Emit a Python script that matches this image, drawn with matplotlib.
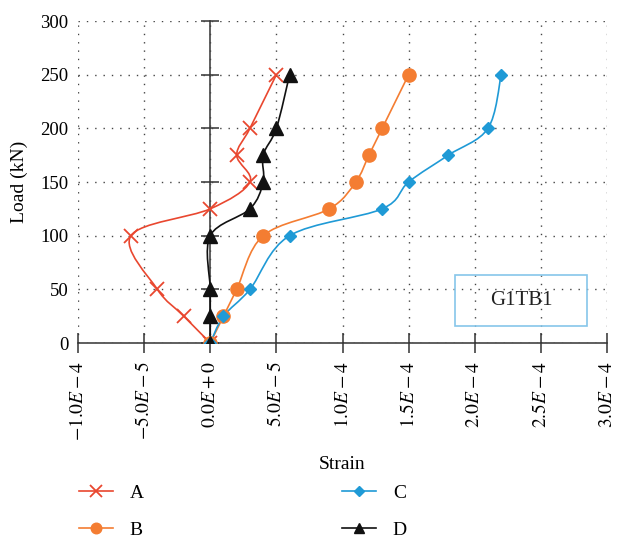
import matplotlib
matplotlib.use("Agg")
import matplotlib.pyplot as plt
import numpy as np
from matplotlib.path import Path
from matplotlib.patches import PathPatch, Rectangle
from matplotlib.lines import Line2D

plt.rcParams['font.family'] = ['Liberation Serif', 'DejaVu Serif']
plt.rcParams['mathtext.fontset'] = 'stix'

# load steps (kN) and measured strains for the four gauges
load = [0, 25, 50, 100, 125, 150, 175, 200, 250]
strain_a = [0, -2.0e-5, -4.0e-5, -6.0e-5, 0, 3.0e-5, 2.0e-5, 3.0e-5, 5.0e-5]
strain_b = [0, 1.0e-5, 2.0e-5, 4.0e-5, 9.0e-5, 1.1e-4, 1.2e-4, 1.3e-4, 1.5e-4]
strain_c = [0, 1.0e-5, 3.0e-5, 6.0e-5, 1.3e-4, 1.5e-4, 1.8e-4, 2.1e-4, 2.2e-4]
strain_d = [0, 0, 0, 0, 3.0e-5, 4.0e-5, 4.0e-5, 5.0e-5, 6.0e-5]

x_ticks = [-1.0e-4, -5.0e-5, 0, 5.0e-5, 1.0e-4, 1.5e-4, 2.0e-4, 2.5e-4, 3.0e-4]
x_labels = [r'$-1.0E-4$', r'$-5.0E-5$', r'$0.0E+0$', r'$5.0E-5$', r'$1.0E-4$',
            r'$1.5E-4$', r'$2.0E-4$', r'$2.5E-4$', r'$3.0E-4$']
y_ticks = [0, 50, 100, 150, 200, 250, 300]


def smooth_path(xs, ys):
    # Catmull-Rom style cubic bezier through every point
    p = np.column_stack([xs, ys]).astype(float)
    ext = np.vstack([p[0], p, p[-1]])
    verts = [tuple(p[0])]
    codes = [Path.MOVETO]
    for i in range(len(p) - 1):
        p0, p1, p2, p3 = ext[i], ext[i + 1], ext[i + 2], ext[i + 3]
        c1 = p1 + (p2 - p0) / 6.0
        c2 = p2 - (p3 - p1) / 6.0
        verts += [tuple(c1), tuple(c2), tuple(p2)]
        codes += [Path.CURVE4] * 3
    return Path(verts, codes)


fig = plt.figure(figsize=(6.22, 5.43), dpi=100)
ax = fig.add_axes([0.1254, 0.3683, 0.8505, 0.593])

series = [
    ('A', strain_a, '#e9472f', dict(marker='x', markersize=10, markeredgewidth=1.3)),
    ('B', strain_b, '#f47d32', dict(marker='o', markersize=9.5)),
    ('C', strain_c, '#1f9ad6', dict(marker='D', markersize=6.5)),
    ('D', strain_d, '#111111', dict(marker='^', markersize=9.5)),
]

handles = []
for name, xs, col, mk in series:
    ax.add_patch(PathPatch(smooth_path(xs, load), fill=False, edgecolor=col,
                           linewidth=1.2, zorder=3))
    ax.plot(xs, load, linestyle='none', color=col, zorder=4, **mk)
    handles.append(Line2D([], [], color=col, linewidth=1.2, **mk))

ax.set_xlim(-1.0e-4, 3.0e-4)
ax.set_ylim(0, 300)
ax.set_xticks(x_ticks)
ax.set_xticklabels(x_labels, rotation=90, fontsize=14)
ax.set_yticks(y_ticks)
ax.tick_params(axis='y', length=0, pad=7, labelsize=13.5)
ax.tick_params(axis='x', direction='inout', length=14, width=1.1,
               color='#333333', pad=6)

for s in ['top', 'right', 'left']:
    ax.spines[s].set_visible(False)
ax.spines['bottom'].set_linewidth(1.1)
ax.spines['bottom'].set_color('#333333')

ax.grid(True, linestyle=(0, (1, 5)), linewidth=1.0, color='#444444')

# vertical axis line through zero strain
zero_pos = (0 - ax.get_xlim()[0]) / (ax.get_xlim()[1] - ax.get_xlim()[0])
sec = ax.secondary_yaxis(zero_pos)
sec.set_yticks(y_ticks)
sec.tick_params(direction='inout', length=13, width=1.1, color='#333333',
                labelleft=False)
sec.spines['left'].set_linewidth(1.1)
sec.spines['left'].set_color('#333333')

ax.set_xlabel('Strain', fontsize=14, labelpad=11)
ax.set_ylabel('Load (kN)', fontsize=14, labelpad=9)

# specimen label box
ax.add_patch(Rectangle((0.7127, 0.0528), 0.2495, 0.158, transform=ax.transAxes,
                       fill=False, edgecolor='#86c6ea', linewidth=1.2, zorder=5))
ax.text(0.8374, 0.1335, 'G1TB1', transform=ax.transAxes, ha='center',
        va='center', fontsize=15, color='#222222', zorder=5)

fig.legend(handles, ['A', 'B', 'C', 'D'], ncol=2, frameon=False,
           loc='upper left', bbox_to_anchor=(0.115, 0.123), fontsize=14,
           markerscale=0.8, handlelength=1.75, handletextpad=0.85,
           columnspacing=10.2, labelspacing=1.0, borderaxespad=0)

fig.savefig('out.png', dpi=100)
